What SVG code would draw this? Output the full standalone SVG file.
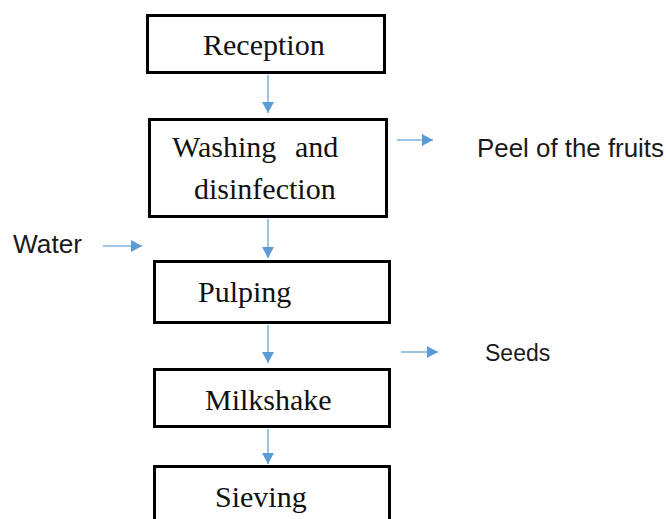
<svg xmlns="http://www.w3.org/2000/svg" width="666" height="519" viewBox="0 0 666 519">
<defs>
<style>
.box{fill:#fff;stroke:#000;stroke-width:3}
.t{font-family:"Liberation Serif","Times New Roman",serif;font-size:30px;fill:#111}
.s{font-family:"Liberation Sans",Arial,sans-serif;font-size:25px;fill:#1a1a1a}
.c{stroke:#9DC3E6;stroke-width:2;fill:none;marker-end:url(#ah)}
</style>
<marker id="ah" viewBox="0 0 11 12" refX="11" refY="6" markerWidth="11" markerHeight="12" markerUnits="userSpaceOnUse" orient="auto">
<path d="M0,0 L11,6 L0,12 z" fill="#5B9BD5"/>
</marker>
</defs>
<rect width="666" height="519" fill="#fff"/>
<g id="connectors">
<line class="c" x1="268" y1="75" x2="268" y2="113"/>
<line class="c" x1="268" y1="219" x2="268" y2="258"/>
<line class="c" x1="268" y1="325" x2="268" y2="363"/>
<line class="c" x1="268" y1="429" x2="268" y2="464"/>
<line class="c" x1="397" y1="140" x2="433" y2="140"/>
<line class="c" x1="103" y1="246" x2="142" y2="246"/>
<line class="c" x1="401" y1="352" x2="438" y2="352"/>
</g>
<g id="reception">
<rect class="box" x="147.5" y="15.5" width="237" height="57"/>
<text class="t" x="203" y="55">Reception</text>
</g>
<g id="washing">
<rect class="box" x="149.5" y="119.5" width="237" height="97"/>
<text class="t" x="172" y="157">Washing</text>
<text class="t" x="295" y="157">and</text>
<text class="t" x="194" y="199">disinfection</text>
</g>
<g id="pulping">
<rect class="box" x="154.5" y="261.5" width="235" height="61"/>
<text class="t" x="198" y="302">Pulping</text>
</g>
<g id="milkshake">
<rect class="box" x="154.5" y="369.5" width="235" height="57"/>
<text class="t" x="205" y="410">Milkshake</text>
</g>
<g id="sieving">
<rect class="box" x="154.5" y="466.5" width="235" height="70"/>
<text class="t" x="215" y="507">Sieving</text>
</g>
<g id="peel">
<text class="s" x="477" y="157" textLength="187" lengthAdjust="spacingAndGlyphs">Peel of the fruits</text>
</g>
<g id="water">
<text class="s" x="13" y="253" textLength="69" lengthAdjust="spacingAndGlyphs">Water</text>
</g>
<g id="seeds">
<text class="s" x="485" y="361" style="font-size:23px">Seeds</text>
</g>
</svg>
